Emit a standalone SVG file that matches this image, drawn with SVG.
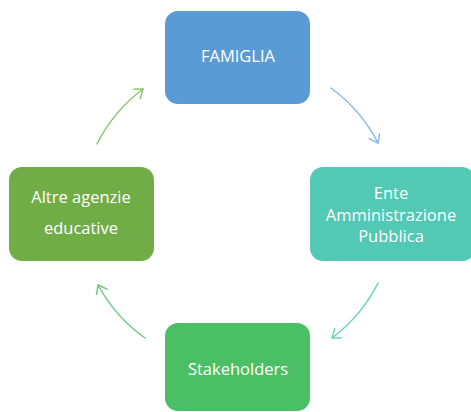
<svg xmlns="http://www.w3.org/2000/svg" width="471" height="412" viewBox="0 0 471 412">
<style>
.lbl{font-family:"Open Sans","Noto Sans","Liberation Sans",sans-serif;font-size:16.5px;fill:#ffffff;text-anchor:middle}
.arc{fill:none;stroke-width:1.5;stroke-linecap:round}
.mk{fill:none;stroke-width:1.5;stroke-linecap:round;stroke-linejoin:round}
</style>
<defs>
<marker id="mBlue" markerWidth="14" markerHeight="14" refX="10" refY="6" orient="auto" markerUnits="userSpaceOnUse"><path class="mk" d="M2,0 L10,6 L2,12" stroke="#8DB8E2"/></marker>
<marker id="mTeal" markerWidth="14" markerHeight="14" refX="10" refY="6" orient="auto" markerUnits="userSpaceOnUse"><path class="mk" d="M2,0 L10,6 L2,12" stroke="#6AD2C0"/></marker>
<marker id="mGreen" markerWidth="14" markerHeight="14" refX="10" refY="6" orient="auto" markerUnits="userSpaceOnUse"><path class="mk" d="M2,0 L10,6 L2,12" stroke="#6CCB83"/></marker>
<marker id="mLime" markerWidth="14" markerHeight="14" refX="10" refY="6" orient="auto" markerUnits="userSpaceOnUse"><path class="mk" d="M2,0 L10,6 L2,12" stroke="#8FC46E"/></marker>
</defs>
<rect width="471" height="412" fill="#ffffff"/>
<g id="connectors">
<path class="arc" stroke="#8DB8E2" d="M331,88 A157,157 0 0 1 378,143" marker-end="url(#mBlue)"/>
<path class="arc" stroke="#6AD2C0" d="M378,283 A157,157 0 0 1 332,338" marker-end="url(#mTeal)"/>
<path class="arc" stroke="#6CCB83" d="M145,338 A157,157 0 0 1 98,285" marker-end="url(#mGreen)"/>
<path class="arc" stroke="#8FC46E" d="M97,144 A157,157 0 0 1 143,89" marker-end="url(#mLime)"/>
</g>
<g id="famiglia">
<rect x="165" y="11" width="145" height="93" rx="13" fill="#5B9BD5"/>
<text class="lbl" x="238" y="62">FAMIGLIA</text>
</g>
<g id="ente">
<rect x="310" y="167" width="165" height="94" rx="13" fill="#52C9B5"/>
<text class="lbl" x="391" y="199">Ente</text>
<text class="lbl" x="391" y="221">Amministrazione</text>
<text class="lbl" x="391" y="242">Pubblica</text>
</g>
<g id="stakeholders">
<rect x="165" y="323" width="145" height="88" rx="13" fill="#4BBF66"/>
<text class="lbl" x="238" y="375">Stakeholders</text>
</g>
<g id="altre">
<rect x="9" y="167" width="145" height="94" rx="13" fill="#70AD47"/>
<text class="lbl" x="81" y="203">Altre agenzie</text>
<text class="lbl" x="81" y="234">educative</text>
</g>
</svg>
